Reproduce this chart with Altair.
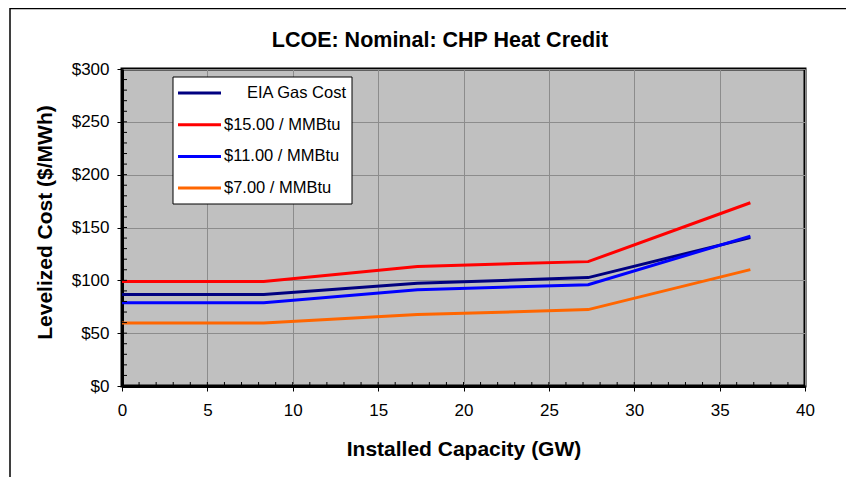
import altair as alt
import pandas as pd

# ---- data ----
capacity_gw = [0, 8.3, 17.3, 27.3, 36.8]
series_names = ["EIA Gas Cost", "$15.00 / MMBtu", "$11.00 / MMBtu", "$7.00 / MMBtu"]
eia_gas = [86.5, 86.5, 97.2, 102.6, 140.4]
gas_15 = [99.0, 99.0, 113.2, 117.7, 173.4]
gas_11 = [78.9, 78.9, 91.2, 95.9, 141.8]
gas_7 = [59.7, 59.7, 67.6, 72.3, 110.1]
series_colors = ["#000080", "#FF0000", "#0000FF", "#FF6600"]
x_ticks = [0, 5, 10, 15, 20, 25, 30, 35, 40]
y_ticks = [0, 50, 100, 150, 200, 250, 300]
x_minor = list(range(1, 40))
y_minor = list(range(10, 300, 10))

rows = []
for name, vals in zip(series_names, [eia_gas, gas_15, gas_11, gas_7]):
    for x, v in zip(capacity_gw, vals):
        rows.append({"series": name, "capacity": x, "cost": v})
df = pd.DataFrame(rows)

FONT = "Liberation Sans"
W, H = 683, 317
xs = alt.Scale(domain=[0, 40], nice=False, zero=False)
ys = alt.Scale(domain=[0, 300], nice=False)
one = pd.DataFrame({"k": [0]})

frame = alt.Chart(one).mark_rect(fillOpacity=0, stroke="black", strokeWidth=1.5).encode(
    x=alt.value(-112), x2=alt.value(760), y=alt.value(-60.5), y2=alt.value(440)
)

lines = alt.Chart(df).mark_line(strokeWidth=3).encode(
    x=alt.X("capacity:Q", scale=xs,
            axis=alt.Axis(values=x_ticks, title="Installed Capacity (GW)", format="d",
                          titleY=63, titleBaseline="middle")),
    y=alt.Y("cost:Q", scale=ys,
            axis=alt.Axis(values=y_ticks, title="Levelized Cost ($/MWh)", format="$.0f",
                          titleX=-77, titleY=153, titleAngle=270,
                          titleBaseline="middle", titleAlign="center")),
    color=alt.Color("series:N", scale=alt.Scale(domain=series_names, range=series_colors), legend=None),
    order=alt.Order("capacity:Q"),
)

ymin = alt.Chart(pd.DataFrame({"v": y_minor})).mark_rule(color="black", strokeWidth=1).encode(
    y=alt.Y("v:Q", scale=ys, axis=None), x=alt.value(0), x2=alt.value(5)
)
xmin = alt.Chart(pd.DataFrame({"u": x_minor})).mark_rule(color="black", strokeWidth=1).encode(
    x=alt.X("u:Q", scale=xs, axis=None), y=alt.value(H), y2=alt.value(H - 4)
)

legend_box = alt.Chart(one).mark_rect(fill="white", stroke="black", strokeWidth=1).encode(
    x=alt.value(51), x2=alt.value(230), y=alt.value(8), y2=alt.value(135)
)

legend_layers = []
for i, (name, col) in enumerate(zip(series_names, series_colors)):
    yy = 24 + 31.7 * i
    legend_layers.append(
        alt.Chart(one).mark_rule(color=col, strokeWidth=3).encode(
            x=alt.value(56), x2=alt.value(99), y=alt.value(yy)
        )
    )
    if i == 0:
        txt = alt.Chart(one).mark_text(text=name, align="right", baseline="middle",
                                       font=FONT, fontSize=16.5, color="black").encode(
            x=alt.value(224), y=alt.value(yy))
    else:
        txt = alt.Chart(one).mark_text(text=name, align="left", baseline="middle",
                                       font=FONT, fontSize=16.5, color="black").encode(
            x=alt.value(102), y=alt.value(yy))
    legend_layers.append(txt)

title = alt.Chart(one).mark_text(text="LCOE: Nominal: CHP Heat Credit", align="center",
                                 baseline="middle", font=FONT, fontSize=21.5,
                                 fontWeight="bold", color="black").encode(
    x=alt.value(318), y=alt.value(-28)
)

chart = alt.layer(frame, lines, ymin, xmin, legend_box, *legend_layers, title).resolve_axis(
    x="independent", y="independent"
).properties(
    width=W, height=H,
    padding={"left": 114, "top": 61, "right": 41, "bottom": 91},
    autosize=alt.AutoSizeParams(type="none"),
    background="white",
).configure_view(
    fill="#C0C0C0", stroke="black", strokeWidth=3
).configure_axis(
    labelFont=FONT, labelFontSize=17, labelColor="black", labelFlush=False,
    titleFont=FONT, titleFontSize=21, titleFontWeight="bold", titleColor="black",
    tickColor="black", tickWidth=1, tickSize=5,
    domainColor="black", domainWidth=3,
    grid=True, gridColor="#8c8c8c", gridWidth=1,
).configure_axisX(
    labelPadding=11
).configure_axisY(
    labelPadding=8
)

chart.save("out.html", embed_options={"renderer": "svg", "actions": False})
